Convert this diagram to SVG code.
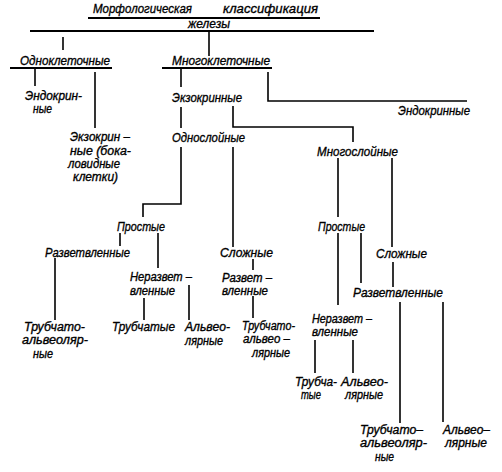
<svg xmlns="http://www.w3.org/2000/svg" width="502" height="472" viewBox="0 0 502 472">
<style>
text{font-family:"Liberation Sans","DejaVu Sans",sans-serif;font-style:italic;font-size:13.5px;fill:#000;stroke:#000;stroke-width:0.35}
.m text{font-size:12.5px}
.c line,.c polyline{stroke:#000;stroke-width:1.6;fill:none}
.c .thick{stroke-width:2.2}
</style>
<rect width="502" height="472" fill="#fff"/>
<g class="c" id="connectors">
<line class="thick" x1="88" y1="18" x2="320" y2="18"/>
<line class="thick" x1="30" y1="31" x2="374" y2="31"/>
<line x1="63" y1="37" x2="63" y2="50"/>
<line x1="209" y1="31" x2="209" y2="56"/>
<line class="thick" x1="10" y1="68" x2="112" y2="68"/>
<line class="thick" x1="162" y1="68" x2="272" y2="68"/>
<line x1="35" y1="68" x2="35" y2="86"/>
<line x1="95" y1="72" x2="95" y2="128"/>
<line x1="181" y1="69" x2="181" y2="87"/>
<polyline points="268,72 268,101 467,101"/>
<line x1="181" y1="107" x2="181" y2="128"/>
<polyline points="233,106 233,127 353,127 353,142"/>
<polyline points="181,147 181,204 143,204 143,217"/>
<line x1="233" y1="147" x2="233" y2="247"/>
<line x1="338" y1="158" x2="338" y2="217"/>
<line x1="392" y1="158" x2="392" y2="247"/>
<line x1="120" y1="233" x2="120" y2="246"/>
<line x1="158" y1="233" x2="158" y2="268"/>
<line x1="253" y1="259" x2="253" y2="270"/>
<line x1="253" y1="296" x2="253" y2="318"/>
<line x1="55" y1="258" x2="55" y2="320"/>
<line x1="144" y1="298" x2="144" y2="320"/>
<line x1="189" y1="285" x2="189" y2="320"/>
<line x1="338" y1="233" x2="338" y2="305"/>
<line x1="361" y1="233" x2="361" y2="283"/>
<line x1="393" y1="262" x2="393" y2="287"/>
<line x1="400" y1="302" x2="400" y2="423"/>
<line x1="443" y1="302" x2="443" y2="422"/>
<line x1="315" y1="340" x2="315" y2="373"/>
<line x1="353" y1="340" x2="353" y2="373"/>
</g>
<g id="title"><text x="93" y="13" textLength="99" lengthAdjust="spacingAndGlyphs">Морфологическая</text><text x="223" y="13" textLength="95" lengthAdjust="spacingAndGlyphs">классификация</text><text x="188" y="28" textLength="42" lengthAdjust="spacingAndGlyphs">железы</text></g>
<g id="odnokl"><text x="20" y="65" textLength="90" lengthAdjust="spacingAndGlyphs">Одноклеточные</text></g>
<g id="mnogokl"><text x="172" y="65" textLength="98" lengthAdjust="spacingAndGlyphs">Многоклеточные</text></g>
<g id="endo1" class="m"><text x="25" y="100" textLength="57" lengthAdjust="spacingAndGlyphs">Эндокрин-</text><text x="33" y="113" textLength="19" lengthAdjust="spacingAndGlyphs">ные</text></g>
<g id="exo1" class="m"><text x="70" y="141" textLength="60" lengthAdjust="spacingAndGlyphs">Экзокрин –</text><text x="70" y="155" textLength="61" lengthAdjust="spacingAndGlyphs">ные (бока-</text><text x="68" y="168" textLength="52" lengthAdjust="spacingAndGlyphs">ловидные</text><text x="73" y="181" textLength="45" lengthAdjust="spacingAndGlyphs">клетки)</text></g>
<g id="exo2"><text x="172" y="102" textLength="70" lengthAdjust="spacingAndGlyphs">Экзокринные</text></g>
<g id="endo2"><text x="398" y="115" textLength="72" lengthAdjust="spacingAndGlyphs">Эндокринные</text></g>
<g id="odnosl"><text x="172" y="142" textLength="73" lengthAdjust="spacingAndGlyphs">Однослойные</text></g>
<g id="mnogosl"><text x="317" y="156" textLength="81" lengthAdjust="spacingAndGlyphs">Многослойные</text></g>
<g id="prost1"><text x="117" y="231" textLength="48" lengthAdjust="spacingAndGlyphs">Простые</text></g>
<g id="prost2"><text x="318" y="231" textLength="47" lengthAdjust="spacingAndGlyphs">Простые</text></g>
<g id="razv1"><text x="45" y="257" textLength="85" lengthAdjust="spacingAndGlyphs">Разветвленные</text></g>
<g id="slozh1"><text x="220" y="257" textLength="53" lengthAdjust="spacingAndGlyphs">Сложные</text></g>
<g id="slozh2"><text x="376" y="258" textLength="51" lengthAdjust="spacingAndGlyphs">Сложные</text></g>
<g id="nerazv1" class="m"><text x="130" y="281" textLength="62" lengthAdjust="spacingAndGlyphs">Неразвет –</text><text x="130" y="295" textLength="45" lengthAdjust="spacingAndGlyphs">вленные</text></g>
<g id="razv2" class="m"><text x="222" y="282" textLength="50" lengthAdjust="spacingAndGlyphs">Развет –</text><text x="222" y="295" textLength="46" lengthAdjust="spacingAndGlyphs">вленные</text></g>
<g id="razv3"><text x="353" y="297" textLength="90" lengthAdjust="spacingAndGlyphs">Разветвленные</text></g>
<g id="nerazv2" class="m"><text x="312" y="323" textLength="60" lengthAdjust="spacingAndGlyphs">Неразвет –</text><text x="312" y="336" textLength="46" lengthAdjust="spacingAndGlyphs">вленные</text></g>
<g id="trubalv1" class="m"><text x="24" y="331" textLength="61" lengthAdjust="spacingAndGlyphs">Трубчато-</text><text x="22" y="344" textLength="66" lengthAdjust="spacingAndGlyphs">альвеоляр-</text><text x="33" y="358" textLength="20" lengthAdjust="spacingAndGlyphs">ные</text></g>
<g id="trub1"><text x="112" y="331" textLength="63" lengthAdjust="spacingAndGlyphs">Трубчатые</text></g>
<g id="alv1" class="m"><text x="185" y="331" textLength="45" lengthAdjust="spacingAndGlyphs">Альвео-</text><text x="185" y="345" textLength="38" lengthAdjust="spacingAndGlyphs">лярные</text></g>
<g id="trubalv2" class="m"><text x="242" y="330" textLength="53" lengthAdjust="spacingAndGlyphs">Трубчато-</text><text x="243" y="343" textLength="47" lengthAdjust="spacingAndGlyphs">альвео –</text><text x="252" y="357" textLength="38" lengthAdjust="spacingAndGlyphs">лярные</text></g>
<g id="trub2" class="m"><text x="295" y="386" textLength="42" lengthAdjust="spacingAndGlyphs">Трубча-</text><text x="301" y="399" textLength="20" lengthAdjust="spacingAndGlyphs">тые</text></g>
<g id="alv2" class="m"><text x="341" y="386" textLength="47" lengthAdjust="spacingAndGlyphs">Альвео-</text><text x="345" y="399" textLength="38" lengthAdjust="spacingAndGlyphs">лярные</text></g>
<g id="trubalv3" class="m"><text x="360" y="434" textLength="63" lengthAdjust="spacingAndGlyphs">Трубчато–</text><text x="360" y="447" textLength="67" lengthAdjust="spacingAndGlyphs">альвеоляр-</text><text x="375" y="461" textLength="19" lengthAdjust="spacingAndGlyphs">ные</text></g>
<g id="alv3" class="m"><text x="443" y="434" textLength="47" lengthAdjust="spacingAndGlyphs">Альвео–</text><text x="445" y="447" textLength="42" lengthAdjust="spacingAndGlyphs">лярные</text></g>
</svg>
